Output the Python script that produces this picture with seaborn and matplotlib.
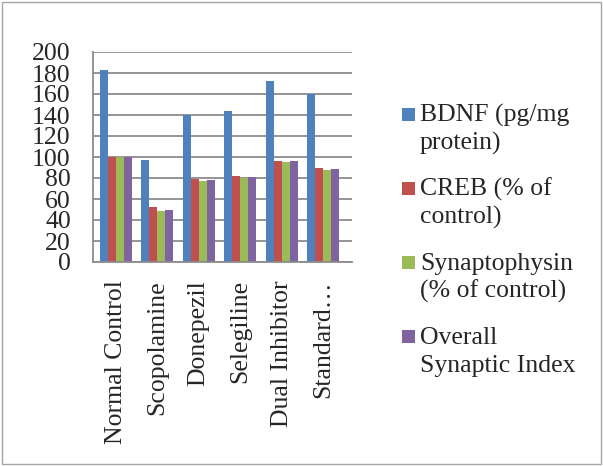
import matplotlib
matplotlib.use("Agg")
import matplotlib.pyplot as plt
import seaborn as sns
import pandas as pd
from matplotlib.patches import Rectangle

categories = ["Normal Control", "Scopolamine", "Donepezil", "Selegiline", "Dual Inhibitor", "Standard…"]
series_names = ["BDNF (pg/mg protein)", "CREB (% of control)", "Synaptophysin (% of control)", "Overall Synaptic Index"]
legend_lines = [["BDNF (pg/mg", "protein)"], ["CREB (% of", "control)"],
                ["Synaptophysin", "(% of control)"], ["Overall", "Synaptic Index"]]
bdnf = [183, 97, 140, 144, 172, 160]
creb = [100, 52, 79, 82, 96, 90]
synaptophysin = [100, 49, 77, 80, 95, 88]
overall = [100, 50, 78, 81, 96, 89]
colors = ["#4F81BD", "#C0504D", "#9BBB59", "#8064A2"]
yticks = list(range(0, 201, 20))

rows = []
for name, vals in zip(series_names, [bdnf, creb, synaptophysin, overall]):
    for c, v in zip(categories, vals):
        rows.append({"Group": c, "Series": name, "Value": v})
df = pd.DataFrame(rows)

sns.set_style("white")
plt.rcParams["font.family"] = ["Liberation Serif", "DejaVu Serif"]

W, H = 603, 466
fig = plt.figure(figsize=(W / 100, H / 100), dpi=100)
# axes: x data -0.5 at px 95, 5.5 at px 344; y 0 at px 262, 200 at px 52
left_px, right_px = 93, 352
ax = fig.add_axes([left_px / W, (H - 262) / H, (right_px - left_px) / W, (262 - 52) / H])

sns.barplot(data=df, x="Group", y="Value", hue="Series", palette=colors,
            order=categories, hue_order=series_names, width=0.76,
            saturation=1, ax=ax, legend=False, edgecolor="none")

unit = (344 - 95) / 6.0
ax.set_xlim(-0.5 - (95 - left_px) / unit, 5.5 + (right_px - 344) / unit)
ax.set_ylim(0, 200)
ax.set_yticks(yticks)
ax.yaxis.grid(True, color="#8C8C8C", linewidth=1.3)
ax.set_axisbelow(True)
for s in ["top", "right"]:
    ax.spines[s].set_visible(False)
ax.spines["left"].set_color("#8C8C8C")
ax.spines["left"].set_linewidth(1.3)
ax.spines["bottom"].set_color("#8C8C8C")
ax.spines["bottom"].set_linewidth(1.3)
ax.set_xlabel("")
ax.set_ylabel("")
ax.tick_params(axis="y", labelsize=18.5, length=3, color="#8C8C8C", pad=13)
ax.set_xticks(range(len(categories)))
ax.set_xticklabels(categories, rotation=90)
ax.tick_params(axis="x", which="major", labelsize=18.5, length=0, pad=13)
ax.set_xticks([i - 0.5 for i in range(len(categories) + 1)], minor=True)
ax.tick_params(axis="x", which="minor", length=6, width=1.3, color="#8C8C8C", direction="out")

# legend drawn by hand so the swatch lines up with the first text line
entry_step = 74
for i, (col, lines) in enumerate(zip(colors, legend_lines)):
    top = 108 + i * entry_step
    fig.patches.append(Rectangle((402 / W, 1 - (top + 13) / H), 13 / W, 13 / H,
                                 transform=fig.transFigure, facecolor=col, edgecolor="none"))
    for j, line in enumerate(lines):
        base = 122 + i * entry_step + j * 28
        fig.text(420 / W, 1 - base / H, line, fontsize=18.5, va="baseline", ha="left")

fig.patches.append(Rectangle((2 / W, 2 / H), (W - 4) / W, (H - 4) / H, transform=fig.transFigure,
                             fill=False, edgecolor="#A6A6A6", linewidth=1))

fig.savefig("out.png", dpi=100)
